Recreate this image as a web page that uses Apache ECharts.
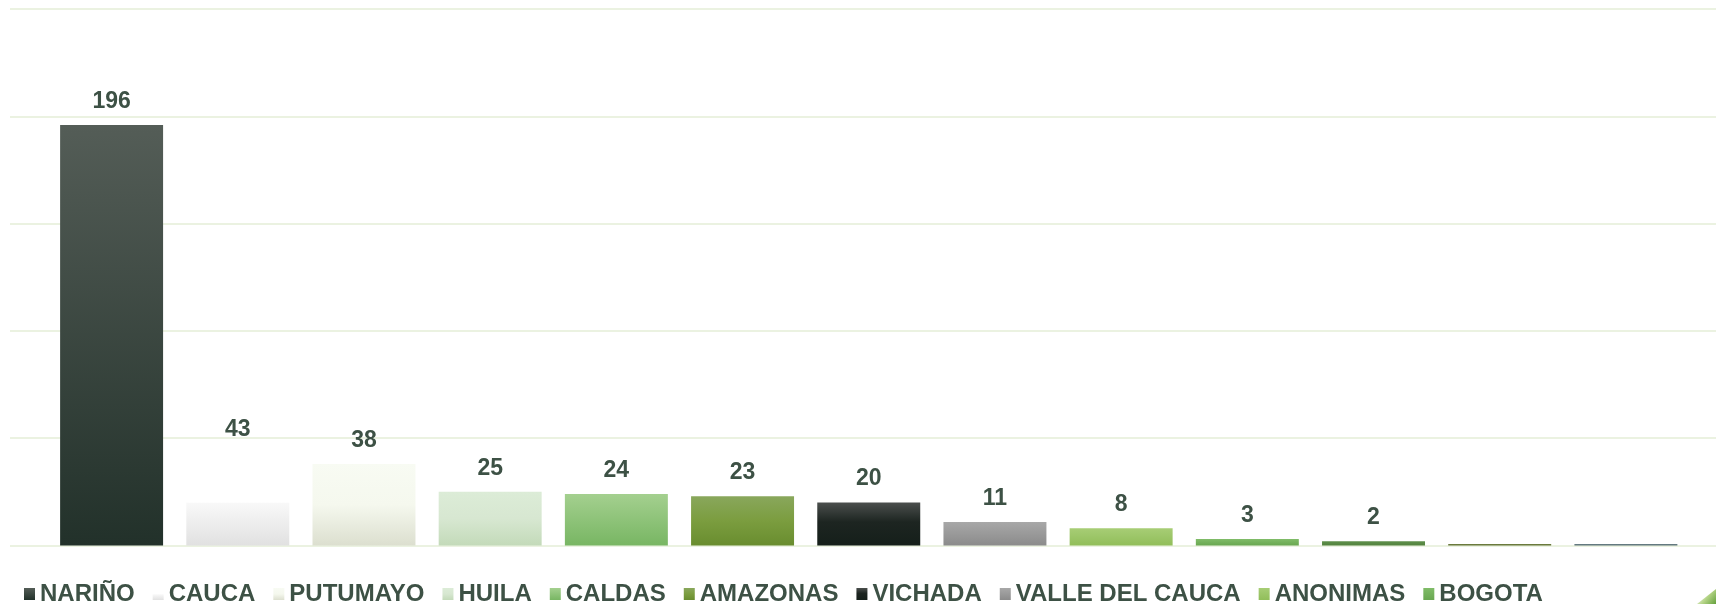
<!DOCTYPE html>
<html>
<head>
<meta charset="utf-8">
<script src="https://cdn.jsdelivr.net/npm/echarts@6/dist/echarts.min.js"></script>
<style>
  html, body { margin: 0; padding: 0; background: #ffffff; }
  #grafico { width: 1716px; height: 604px; }
</style>
</head>
<body>
<div id="grafico"></div>
<script>
// Casos por departamento de procedencia
const departamentos = ['NARIÑO', 'CAUCA', 'PUTUMAYO', 'HUILA', 'CALDAS', 'AMAZONAS',
                       'VICHADA', 'VALLE DEL CAUCA', 'ANONIMAS', 'BOGOTA'];
const casos = [196, 43, 38, 25, 24, 23, 20, 11, 8, 3, 2, 0.7, 0.7];
const barrasConEtiqueta = 11;          // the two smallest bars carry no value label
const ticksY = [0, 50, 100, 150, 200, 250];

// vertical gradients (top -> bottom) for each bar
const rellenos = [
  [[0, '#545d57'], [1, '#22312a']],
  [[0, '#ffffff'], [0.53, '#ffffff'], [0.545, '#f8f8f8'], [1, '#e1e1e1']],
  [[0, '#f8fbf3'], [0.5, '#f5f8ee'], [1, '#dcdfcf']],
  [[0, '#dcecd7'], [0.5, '#d7e7d1'], [1, '#c3dab9']],
  [[0, '#a4d08f'], [1, '#78b663']],
  [[0, '#89a75c'], [0.5, '#7b9d3f'], [1, '#698d2f']],
  [[0, '#4b4f4d'], [0.45, '#1d2521'], [1, '#151f1a']],
  [[0, '#a8a8a8'], [1, '#8b8b8b']],
  [[0, '#a7cd75'], [1, '#91be5a']],
  [[0, '#80bc68'], [1, '#69a751']],
  [[0, '#5e904b'], [1, '#53823e']],
  [[0, '#6d7d3e'], [1, '#65753a']],
  [[0, '#667c82'], [1, '#5f747a']]
];

const colorTexto = '#3d5145';
const fuente = '"Liberation Sans", Arial, sans-serif';

function gradiente(stops) {
  return new echarts.graphic.LinearGradient(0, 0, 0, 1,
    stops.map(([offset, color]) => ({ offset, color })));
}

const indices = casos.map((_, i) => String(i));

const series = casos.map((v, i) => ({
  type: 'bar',
  name: i < departamentos.length ? departamentos[i] : 'otro ' + i,
  xAxisIndex: 1,
  yAxisIndex: 1,
  stack: 'casos',
  barCategoryGap: '18.4%',
  data: casos.map((w, j) => (j === i ? w : '-')),
  itemStyle: { color: gradiente(rellenos[i]) },
  label: {
    show: i < barrasConEtiqueta,
    position: 'top',
    distance: 12,
    color: colorTexto,
    fontFamily: fuente,
    fontWeight: 'bold',
    fontSize: 23
  },
  emphasis: { disabled: true }
}));

const chart = echarts.init(document.getElementById('grafico'), null, { renderer: 'canvas' });

chart.setOption({
  backgroundColor: '#ffffff',
  animation: false,
  grid: [
    // full-width grid carrying the horizontal gridlines
    { left: 10, right: 0, top: 9, bottom: 58.5 },
    // bars
    { left: 48.5, right: 27, top: 9, bottom: 58.5 }
  ],
  xAxis: [
    { type: 'category', gridIndex: 0, data: [''], show: false },
    { type: 'category', gridIndex: 1, data: indices, show: false }
  ],
  yAxis: [
    {
      type: 'value', gridIndex: 0,
      min: ticksY[0], max: ticksY[ticksY.length - 1], interval: ticksY[1] - ticksY[0],
      axisLine: { show: false }, axisTick: { show: false }, axisLabel: { show: false },
      splitLine: { show: true, lineStyle: { color: '#ebf2e1', width: 2 } }
    },
    {
      type: 'value', gridIndex: 1,
      min: ticksY[0], max: ticksY[ticksY.length - 1], interval: ticksY[1] - ticksY[0],
      show: false, splitLine: { show: false }
    }
  ],
  legend: {
    data: departamentos,
    left: 24,
    top: 582,
    padding: 0,
    itemWidth: 11,
    itemHeight: 12,
    itemGap: 18,
    icon: 'rect',
    selectedMode: false,
    textStyle: {
      color: colorTexto,
      fontFamily: fuente,
      fontWeight: 'bold',
      fontSize: 24
    }
  },
  graphic: [
    {
      type: 'polygon',
      silent: true,
      shape: { points: [[1697, 604], [1716, 589], [1716, 604]] },
      style: {
        fill: new echarts.graphic.LinearGradient(0, 0, 1, 1, [
          { offset: 0, color: 'rgba(235,243,222,0.5)' },
          { offset: 0.55, color: '#b3d385' },
          { offset: 1, color: '#64a03c' }
        ])
      }
    }
  ],
  series: series
});
</script>
</body>
</html>
